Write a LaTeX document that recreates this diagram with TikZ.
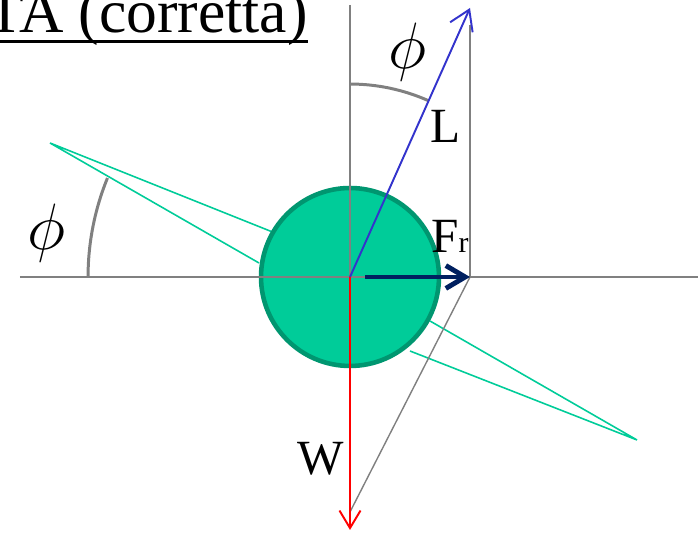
\documentclass[tikz,border=0pt]{standalone}
\usepackage{fontspec}
\setmainfont{Liberation Serif}
\usetikzlibrary{arrows.meta}
\definecolor{discgreen}{RGB}{0,204,153}
\definecolor{discedge}{RGB}{0,150,112}
\definecolor{liftblue}{RGB}{51,51,204}
\definecolor{dragnavy}{RGB}{0,32,96}
\newcommand{\thickul}[1]{\setbox0=\hbox{#1}\rlap{\rule[-5.6pt]{\wd0}{1.6pt}}\box0}

\begin{document}
\begin{tikzpicture}[
  x=0.02cm, y=0.02cm,
  body/.style={circle, draw=discedge, fill=discgreen, line width=2.6pt, minimum size=3.56cm, inner sep=0pt},
  guide/.style={draw=gray, line width=0.8pt},
  anglearc/.style={draw=gray, line width=1.7pt},
  wing/.style={draw=discgreen, line width=0.9pt},
  liftA/.style={-{Straight Barb[length=11pt, width=14pt]}, draw=liftblue, line width=1.1pt},
  weightA/.style={-{Straight Barb[length=10pt, width=12pt]}, draw=red, line width=1.1pt},
  dragA/.style={-{Straight Barb[length=11pt, width=13pt]}, draw=dragnavy, line width=2.8pt},
  lbl/.style={inner sep=0pt, font=\fontsize{28}{30}\selectfont},
  anglbl/.style={inner sep=0pt, font=\fontsize{24.88}{30}\selectfont}
]
\useasboundingbox (0,0) rectangle (698,533);

% key points
\coordinate (O) at (350,256);
\coordinate (Ltip) at (470,525);
\coordinate (Ftail) at (365,256);
\coordinate (Ftip) at (470,256);
\coordinate (Wtip) at (350,3);
\coordinate (Wcorner) at (350,21);

% wings
\coordinate (wingL) at (50,390);
\coordinate (wingLa) at (275,300);
\coordinate (wingLb) at (259,270);
\coordinate (wingR) at (637,93);
\coordinate (wingRa) at (430,212);
\coordinate (wingRb) at (410,182);
\draw[wing] (wingLa) -- (wingL) -- (wingLb);
\draw[wing] (wingRa) -- (wingR) -- (wingRb);

\node[body] (disc) at (O) {};

% reference lines
\coordinate (vtop) at (350,528);
\coordinate (vbot) at (350,138);
\coordinate (hleft) at (20,256);
\coordinate (hright) at (698,256);
\coordinate (rtop) at (470,508);
\draw[guide] (vtop) -- (vbot);
\draw[guide] (hleft) -- (hright);
\draw[guide] (rtop) -- (Ftip);
\draw[guide] (Ftip) -- (Wcorner);

% angles
\draw[anglearc] (O) ++(90:3.86cm) arc[start angle=90, end angle=66, radius=3.86cm];
\draw[anglearc] (O) ++(180:5.24cm) arc[start angle=180, end angle=157.8, radius=5.24cm];

% forces
\draw[liftA] (O) -- (Ltip);
\draw[weightA] (O) -- (Wtip);
\draw[dragA] (Ftail) -- (Ftip);

% labels
\node[anchor=base east, inner sep=0pt, font=\fontsize{35}{40}\selectfont] (title) at (308,500) {\thickul{TA (corretta)}};
\node[lbl, anchor=base west] (Llbl) at (430,390) {L};
\node[lbl, anchor=base west] (Wlbl) at (297,58) {W};
\node[lbl, anchor=base west] (Flbl) at (431,280) {F{\fontsize{17}{17}\selectfont r}};
\node[anglbl] (phitop) at (407,481) {\scalebox{1.5}{$\phi$}};
\node[anglbl] (phileft) at (46,300) {\scalebox{1.5}{$\phi$}};
\end{tikzpicture}
\end{document}
